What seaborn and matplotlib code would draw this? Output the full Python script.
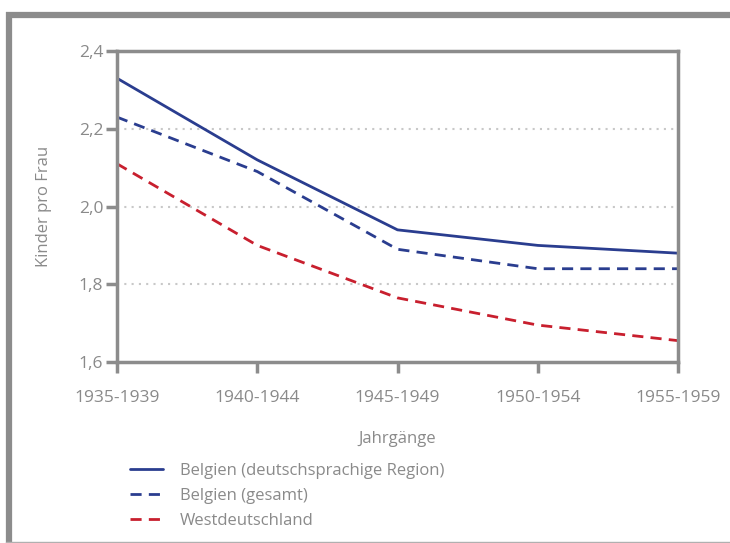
import pandas as pd
import numpy as np
import seaborn as sns
import matplotlib
matplotlib.use('Agg')
import matplotlib.pyplot as plt
from matplotlib.lines import Line2D

jahrgaenge = ['1935-1939', '1940-1944', '1945-1949', '1950-1954', '1955-1959']
belgien_dg = [2.33, 2.12, 1.94, 1.90, 1.88]
belgien_gesamt = [2.23, 2.09, 1.89, 1.84, 1.84]
westdeutschland = [2.11, 1.90, 1.765, 1.695, 1.655]
serien = ['Belgien (deutschsprachige Region)', 'Belgien (gesamt)', 'Westdeutschland']

df = pd.DataFrame({
    'Jahrgang': jahrgaenge * 3,
    'x': list(range(len(jahrgaenge))) * 3,
    'Wert': belgien_dg + belgien_gesamt + westdeutschland,
    'Serie': [s for s in serien for _ in jahrgaenge],
})

sns.set_style('white')
plt.rcParams['font.family'] = ['Open Sans', 'DejaVu Sans']
grau = '#8c8c8c'
txt = '#8a8a8a'
blau = '#2a3d8f'
rot = '#c81f2e'
farben = {serien[0]: blau, serien[1]: blau, serien[2]: rot}
striche = {serien[0]: '', serien[1]: (4, 2.6), serien[2]: (4, 2.6)}

fig = plt.figure(figsize=(7.3, 5.43), dpi=100)
ax = fig.add_axes([0.1603, 0.3333, 0.7685, 0.5727])

sns.lineplot(data=df, x='x', y='Wert', hue='Serie', style='Serie',
             palette=farben, dashes=striche, linewidth=2, ax=ax, legend=False)

ax.set_xlim(0, 4)
ax.set_ylim(1.6, 2.4)
ax.set_xticks(range(len(jahrgaenge)))
ax.set_xticklabels(jahrgaenge)
ax.set_yticks([1.6, 1.8, 2.0, 2.2, 2.4])
ax.set_yticklabels(['1,6', '1,8', '2,0', '2,2', '2,4'])
for y in [1.8, 2.0, 2.2]:
    ax.axhline(y, color='#c8c8c8', lw=1.5, ls=(0, (1, 2.5)), zorder=0)

for s in ax.spines.values():
    s.set_color(grau)
    s.set_linewidth(2.5)
ax.tick_params(axis='both', colors=grau, width=2.5, length=8, labelsize=12.5,
               labelcolor=txt, direction='out', bottom=True, left=True)
ax.tick_params(axis='x', pad=12)
ax.tick_params(axis='y', pad=2)
ax.set_xlabel('Jahrgänge', color=txt, fontsize=12, labelpad=18)
ax.set_ylabel('Kinder pro Frau', color=txt, fontsize=12, labelpad=19)

handles = [Line2D([], [], color=farben[s], lw=2,
                  ls='-' if striche[s] == '' else (0, striche[s])) for s in serien]
fig.legend(handles, serien, loc='upper left', bbox_to_anchor=(0.178, 0.148),
           frameon=False, fontsize=12, labelcolor=txt, handlelength=2.0,
           handletextpad=1.0, labelspacing=0.55, borderaxespad=0, borderpad=0)

# Rahmen
fig.add_artist(Line2D([6 / 730, 1], [1 - 14.5 / 543] * 2, color=grau, lw=4.5,
                      transform=fig.transFigure, solid_capstyle='butt'))
fig.add_artist(Line2D([8.5 / 730] * 2, [0, 1 - 12 / 543], color=grau, lw=4.5,
                      transform=fig.transFigure, solid_capstyle='butt'))
fig.add_artist(Line2D([6 / 730, 1], [1.5 / 543] * 2, color='#b0b0b0', lw=1,
                      transform=fig.transFigure))

fig.savefig('out.png', dpi=100)
